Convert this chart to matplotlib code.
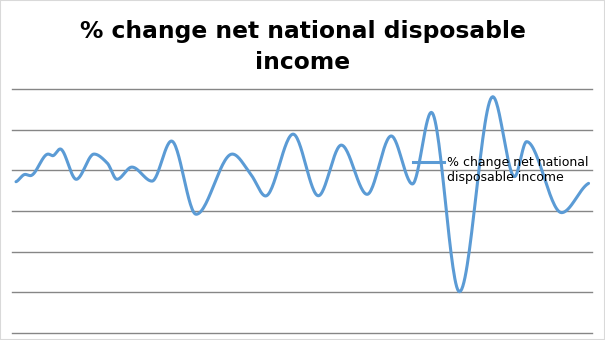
import numpy as np
import matplotlib
matplotlib.use("Agg")
import matplotlib.pyplot as plt
from matplotlib.patches import Rectangle

# period position and % change value
period = [0.0, 1.6, 2.5, 5.6, 6.4, 7.7, 10.5, 13.6, 15.9, 17.6, 20.2, 23.7, 27.1,
          31.4, 37.7, 41.0, 43.5, 48.3, 52.7, 56.7, 61.2, 65.4, 69.1, 72.4,
          77.3, 83.1, 86.9, 89.0, 95.1, 99.8]
change = [1.44, 1.8, 1.74, 2.8, 2.72, 3.05, 1.56, 2.8, 2.36, 1.56, 2.16, 1.47, 3.44,
          -0.16, 2.8, 1.77, 0.74, 3.78, 0.75, 3.24, 0.82, 3.69, 1.33, 4.85,
          -3.97, 5.62, 1.69, 3.41, -0.08, 1.36]

series_name = "% change net national\ndisposable income"
title = "% change net national disposable\nincome"
blue = "#5b9bd5"


def smooth(x, y, n=30):
    # piecewise cubic hermite (pchip-like) to mimic the smoothed line
    x = np.asarray(x, float)
    y = np.asarray(y, float)
    h = np.diff(x)
    d = np.diff(y) / h
    m = np.zeros_like(y)
    for k in range(1, len(x) - 1):
        if d[k - 1] * d[k] > 0:
            w1 = 2 * h[k] + h[k - 1]
            w2 = h[k] + 2 * h[k - 1]
            m[k] = (w1 + w2) / (w1 / d[k - 1] + w2 / d[k])
    m[0] = d[0] * 0.5
    m[-1] = d[-1] * 0.5
    xs, ys = [], []
    for k in range(len(x) - 1):
        t = np.linspace(0, 1, n, endpoint=False)
        h00 = 2 * t ** 3 - 3 * t ** 2 + 1
        h10 = t ** 3 - 2 * t ** 2 + t
        h01 = -2 * t ** 3 + 3 * t ** 2
        h11 = t ** 3 - t ** 2
        xs.append(x[k] + t * h[k])
        ys.append(h00 * y[k] + h10 * h[k] * m[k] + h01 * y[k + 1] + h11 * h[k] * m[k + 1])
    xs.append([x[-1]])
    ys.append([y[-1]])
    return np.concatenate(xs), np.concatenate(ys)


fig = plt.figure(figsize=(6.05, 3.4), dpi=100)
fig.patches.append(Rectangle((0, 0), 1, 1, transform=fig.transFigure,
                             fill=False, edgecolor="#d9d9d9", linewidth=1.5))

ax = fig.add_axes([12 / 605, 7 / 340, 580 / 605, 244 / 340])
sx, sy = smooth(period, change)
ax.plot(sx, sy, color=blue, linewidth=2.2, solid_capstyle="round", zorder=3)

ax.set_xlim(-0.7, 100.4)
ax.set_ylim(-6, 6)
ax.set_yticks(np.arange(-6, 7, 2))
ax.grid(axis="y", color="#868686", linewidth=1.0)
for gl in ax.get_ygridlines():
    gl.set_clip_on(False)
ax.tick_params(left=False, bottom=False, labelleft=False, labelbottom=False)
for s in ax.spines.values():
    s.set_visible(False)

# legend: handle sits next to the first line of the label
ax.plot([0.691, 0.745], [0.701, 0.701], transform=ax.transAxes, color=blue,
        linewidth=2.2, clip_on=False, zorder=4)
ax.text(0.750, 0.668, series_name, transform=ax.transAxes, ha="left",
        va="center", fontsize=9, linespacing=1.15, zorder=5)

fig.text(0.5, 0.862, title, ha="center", va="center", fontsize=16.8,
         fontweight="bold", linespacing=1.4)

fig.savefig("out.png", dpi=100)
